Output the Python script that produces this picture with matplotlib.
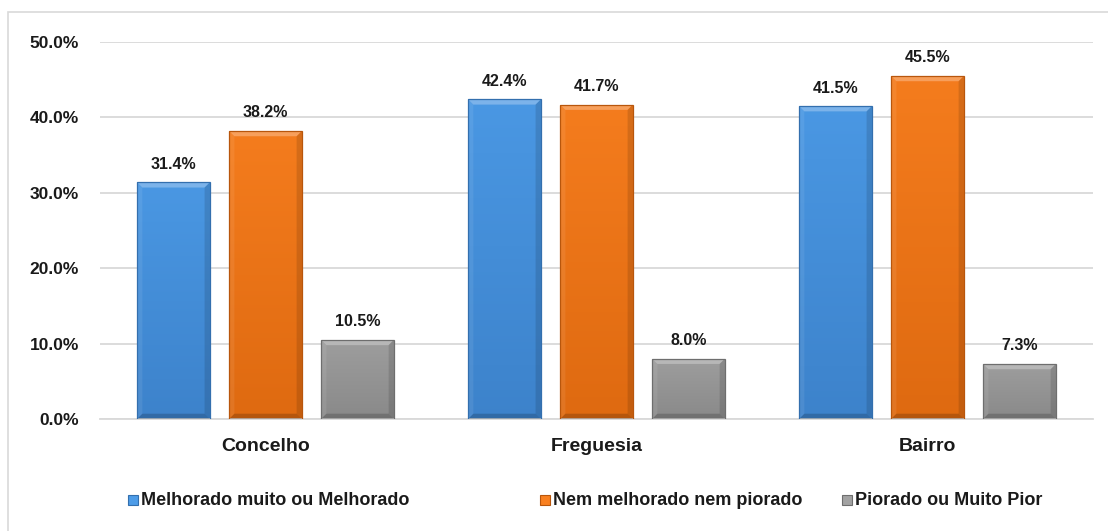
import numpy as np
import matplotlib.pyplot as plt
from matplotlib.patches import Rectangle, Polygon
from matplotlib.colors import LinearSegmentedColormap

plt.rcParams['font.family'] = ['Liberation Sans', 'DejaVu Sans']
plt.rcParams['font.weight'] = 'bold'

categorias = ['Concelho', 'Freguesia', 'Bairro']
series = ['Melhorado muito ou Melhorado', 'Nem melhorado nem piorado', 'Piorado ou Muito Pior']
melhorado = [31.4, 42.4, 41.5]
nem = [38.2, 41.7, 45.5]
piorado = [10.5, 8.0, 7.3]
yticks = [0, 10, 20, 30, 40, 50]

valores = [melhorado, nem, piorado]
# cor clara (topo) e escura (base) de cada série
cores = [('#4d9ce8', '#3a7ec6'), ('#f98020', '#da660e'), ('#a2a2a2', '#858585')]
bordas = ['#336fae', '#b8560c', '#6e6e6e']

W, H = 1108, 531
fig = plt.figure(figsize=(W / 100, H / 100), dpi=100)
ax = fig.add_axes([100/W, 1 - 419/H, 993/W, 377/H])

x = np.arange(len(categorias))
largura = 0.22
desloc = 0.278
bx, by = 0.016, 0.7   # espessura do chanfro (x em categorias, y em %)

ax.set_xlim(-0.5, 2.5)
ax.set_ylim(0, 50)

for i, vals in enumerate(valores):
    cmap = LinearSegmentedColormap.from_list('g%d' % i, [cores[i][1], cores[i][0]])
    for xc, v in zip(x + (i - 1) * desloc, vals):
        x0, x1 = xc - largura / 2, xc + largura / 2
        rect = Rectangle((x0, 0), largura, v, facecolor='none', edgecolor=bordas[i], lw=0.9, zorder=4)
        ax.add_patch(rect)
        grad = np.linspace(0.15, 0.85, 100).reshape(-1, 1)
        im = ax.imshow(grad, cmap=cmap, vmin=0, vmax=1,
                       extent=(x0, x1, 0, v), origin='lower', aspect='auto', zorder=2)
        im.set_clip_path(rect)
        # chanfro: topo claro, laterais e base mais escuras
        ax.add_patch(Polygon([(x0, v), (x1, v), (x1 - bx, v - by), (x0 + bx, v - by)],
                             facecolor='white', alpha=0.28, lw=0, zorder=3))
        ax.add_patch(Polygon([(x0, 0), (x0 + bx, by), (x0 + bx, v - by), (x0, v)],
                             facecolor='white', alpha=0.08, lw=0, zorder=3))
        ax.add_patch(Polygon([(x1, 0), (x1 - bx, by), (x1 - bx, v - by), (x1, v)],
                             facecolor='black', alpha=0.12, lw=0, zorder=3))
        ax.add_patch(Polygon([(x0, 0), (x1, 0), (x1 - bx, by), (x0 + bx, by)],
                             facecolor='black', alpha=0.18, lw=0, zorder=3))
        ax.text(xc, v + 1.4, '%.1f%%' % v, ha='center', va='bottom', fontsize=11.5,
                fontweight='bold', color='#1a1a1a')

ax.set_yticks(yticks)
ax.set_yticklabels(['%.1f%%' % t for t in yticks], fontsize=12.5, fontweight='bold', color='#1a1a1a')
ax.yaxis.grid(True, color='#d9d9d9', lw=1.3, zorder=0)
ax.set_axisbelow(True)
ax.tick_params(axis='y', length=0, pad=15)
ax.set_xticks(x)
ax.set_xticklabels(categorias, fontsize=14, fontweight='bold', color='#1a1a1a')
ax.tick_params(axis='x', length=0, pad=14)
for s in ['top', 'right', 'left']:
    ax.spines[s].set_visible(False)
ax.spines['bottom'].set_color('#d9d9d9')
ax.spines['bottom'].set_linewidth(1.3)

# legenda desenhada à mão: quadrado + texto na mesma linha de base
pos_leg = [128, 540, 842]
base_leg = 505
for c, b, nome, px in zip(cores, bordas, series, pos_leg):
    fig.patches.append(Rectangle((px / W, 1 - base_leg / H), 10 / W, 10 / H, transform=fig.transFigure,
                                 facecolor=c[0], edgecolor=b, lw=0.8))
    fig.text((px + 13) / W, 1 - base_leg / H, nome, ha='left', va='baseline', fontsize=13,
             fontweight='bold', color='#1a1a1a')

# moldura do gráfico
fig.patches.append(Rectangle((8/W, -0.1), 1.2, 1 - 12/H + 0.1, transform=fig.transFigure,
                             facecolor='none', edgecolor='#d9d9d9', lw=1.2))

fig.savefig('out.png', dpi=100)
